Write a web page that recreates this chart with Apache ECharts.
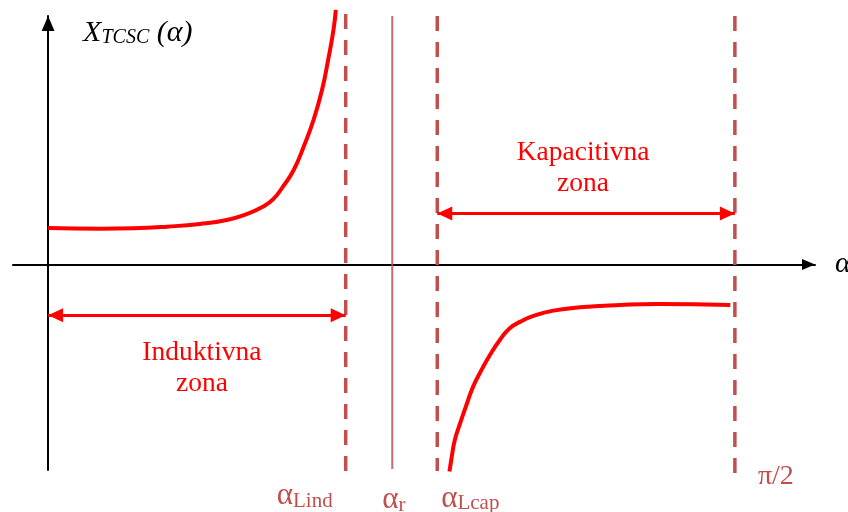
<!DOCTYPE html>
<html>
<head>
<meta charset="utf-8">
<script src="https://cdn.jsdelivr.net/npm/echarts@6/dist/echarts.min.js"></script>
<style>
  html, body { margin: 0; background: #fff; }
  #chart { width: 848px; height: 512px; }
</style>
</head>
<body>
<div id="chart"></div>
<script>
// α in degrees (π/2 = 90), X_TCSC in arbitrary units
const inductiveAlpha = [0, 6.8, 11.2, 15.6, 19.9, 23.4, 26.0, 28.2, 29.5, 30.8, 32.2, 33.5, 34.8, 35.9, 36.7, 37.4, 37.7];
const inductiveX = [3.66, 3.59, 3.63, 3.79, 4.06, 4.46, 5.04, 5.80, 6.54, 7.82, 9.49, 11.83, 14.51, 17.51, 20.51, 23.52, 25.52];
const capacitiveAlpha = [52.6, 52.9, 53.3, 54.0, 54.9, 55.7, 56.8, 57.9, 59.2, 60.5, 61.9, 63.6, 66.2, 69.7, 75.0, 79.8, 89.4];
const capacitiveX = [-20.76, -19.26, -17.59, -15.91, -13.91, -12.24, -10.57, -9.07, -7.57, -6.39, -5.73, -5.16, -4.63, -4.29, -4.06, -3.96, -4.06];

const boundaryAlpha = [39.0, 45.1, 51.0, 90.0];
const boundarySymbol = ['α', 'α', 'α', 'π/2'];
const boundarySub = ['Lind', 'r', 'Lcap', ''];

const zoneNames = ['Induktivna\nzona', 'Kapacitivna\nzona'];
const zoneFrom = [0, 51.0];
const zoneTo = [39.0, 90.0];
const zoneLevel = [-5.1, 5.1];

const RED = '#ff0000';
const BROWN = '#c0504d';
const SERIF = 'Liberation Serif, Times New Roman, serif';
const TRI = 'path://M0,0L6,14L-6,14Z';

const chart = echarts.init(document.getElementById('chart'));

// line style and label placement of each boundary
const labelAnchor = -20.5;
const boundaryStyle = [
  { type: [15, 11], width: 3.5, top: 25.1, bottom: -20.7, offset: [-41, 27] },
  { type: 'solid', width: 2, top: 24.9, bottom: -20.5, offset: [1.5, 31] },
  { type: [15, 11], width: 3.5, top: 24.9, bottom: -20.7, offset: [33, 29.5] },
  { type: [15, 11], width: 3.5, top: 24.9, bottom: -21.3, offset: [41, 7.5] }
];

const boundarySeries = boundaryAlpha.map((a, i) => {
  const st = boundaryStyle[i];
  const text = boundarySub[i]
    ? `{a|${boundarySymbol[i]}}{s|${boundarySub[i]}}`
    : `{p|${boundarySymbol[i]}}`;
  return {
    type: 'line',
    symbol: 'none',
    clip: false,
    silent: true,
    data: [[a, st.top], [a, st.bottom]],
    lineStyle: { color: BROWN, width: st.width, type: st.type, opacity: i === 1 ? 0.85 : 1 },
    markPoint: {
      symbol: 'circle',
      symbolSize: 0,
      silent: true,
      data: [{ coord: [a, labelAnchor] }],
      label: {
        show: true,
        position: 'inside',
        offset: st.offset,
        formatter: text,
        color: BROWN,
        fontFamily: SERIF,
        rich: {
          a: { fontSize: 31, fontFamily: SERIF, color: BROWN, verticalAlign: 'bottom' },
          s: { fontSize: 21, fontFamily: SERIF, color: BROWN, verticalAlign: 'bottom' },
          p: { fontSize: 28, fontFamily: SERIF, color: BROWN }
        }
      }
    }
  };
});

const zoneOffset = [[5, 53], [-3, -45]];

const zoneSeries = {
  type: 'line',
  data: [],
  silent: true,
  markLine: {
    silent: true,
    symbol: [TRI, TRI],
    symbolSize: [14, 15],
    symbolOffset: [[0, 7.5], [0, 7.5]],
    lineStyle: { color: RED, width: 3, type: 'solid' },
    label: { show: false },
    data: zoneNames.map((n, i) => [
      { coord: [zoneFrom[i], zoneLevel[i]] },
      { coord: [zoneTo[i], zoneLevel[i]] }
    ])
  },
  markPoint: {
    symbol: 'circle',
    symbolSize: 0,
    silent: true,
    data: zoneNames.map((n, i) => ({
      coord: [(zoneFrom[i] + zoneTo[i]) / 2, zoneLevel[i]],
      label: { formatter: n, offset: zoneOffset[i] }
    })),
    label: {
      show: true,
      position: 'inside',
      color: RED,
      fontFamily: SERIF,
      fontSize: 27.5,
      lineHeight: 31,
      align: 'center'
    }
  }
};

const option = {
  animation: false,
  backgroundColor: '#fff',
  grid: { left: 13, right: 33, top: 16, bottom: 42, outerBoundsMode: 'none', containLabel: false },
  xAxis: {
    type: 'value',
    min: -4.6,
    max: 100.5,
    name: 'α',
    nameLocation: 'end',
    nameGap: 20,
    nameTextStyle: {
      fontFamily: SERIF, fontStyle: 'italic', fontSize: 30, color: '#000',
      verticalAlign: 'middle', padding: [0, 0, 38, 0]
    },
    axisLine: {
      onZero: true,
      symbol: ['none', TRI],
      symbolSize: [12, 13],
      symbolOffset: [0, -6.5],
      lineStyle: { color: '#000', width: 2 }
    },
    axisTick: { show: false },
    axisLabel: { show: false },
    splitLine: { show: false }
  },
  yAxis: {
    type: 'value',
    min: -20.6,
    max: 24.9,
    name: '{x|X}{s|TCSC}{x| (α)}',
    nameLocation: 'end',
    nameGap: -17,
    nameTextStyle: {
      align: 'left',
      verticalAlign: 'middle',
      padding: [0, 0, 0, 35],
      rich: {
        x: { fontFamily: SERIF, fontStyle: 'italic', fontSize: 30, color: '#000', verticalAlign: 'bottom' },
        s: { fontFamily: SERIF, fontStyle: 'italic', fontSize: 20, color: '#000', verticalAlign: 'bottom' }
      }
    },
    axisLine: {
      onZero: true,
      symbol: ['none', TRI],
      symbolSize: [14, 15],
      symbolOffset: [0, -7.5],
      lineStyle: { color: '#000', width: 2 }
    },
    axisTick: { show: false },
    axisLabel: { show: false },
    splitLine: { show: false }
  },
  series: [
    {
      name: 'inductive',
      type: 'line',
      symbol: 'none',
      smooth: 0.5,
      clip: false,
      data: inductiveAlpha.map((a, i) => [a, inductiveX[i]]),
      lineStyle: { color: RED, width: 4 }
    },
    {
      name: 'capacitive',
      type: 'line',
      symbol: 'none',
      smooth: 0.5,
      clip: false,
      data: capacitiveAlpha.map((a, i) => [a, capacitiveX[i]]),
      lineStyle: { color: RED, width: 4 }
    },
    ...boundarySeries,
    zoneSeries
  ]
};

chart.setOption(option);
</script>
</body>
</html>
